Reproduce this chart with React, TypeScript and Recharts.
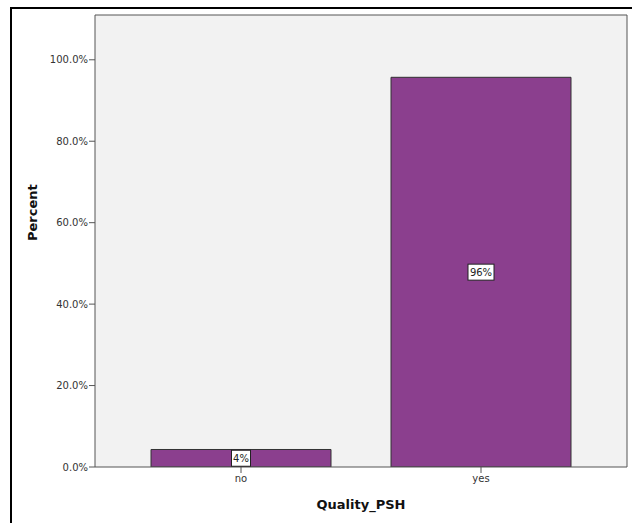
import React from 'react';
import { BarChart, Bar, CartesianGrid, XAxis, YAxis, LabelList } from 'recharts';

const categories = ['no', 'yes'];
const percents = [4.3, 95.7];
const barLabels = ['4%', '96%'];
const yTicks = [0, 20, 40, 60, 80, 100];

const data = categories.map((c, i) => ({ name: c, value: percents[i], label: barLabels[i] }));

const FONT = '"DejaVu Sans", sans-serif';

const BoxLabel = (props: any) => {
    const { x, y, width, height, index } = props;
    const text = barLabels[index];
    const w = text.length * 7 + 5;
    const h = 16;
    const cx = x + width / 2;
    const cy = y + height / 2;
    return (
        <g>
            <rect x={cx - w / 2} y={cy - h / 2} width={w} height={h} fill="#ffffff" stroke="#222" strokeWidth={1} />
            <text x={cx} y={cy + 4} textAnchor="middle" fontSize={10} fontFamily={FONT} fill="#222">{text}</text>
        </g>
    );
};

// top and right edges of the plot frame
const topEdge = ({ offset }: any) => [offset.top];
const rightEdge = ({ offset }: any) => [offset.left + offset.width];

const App: React.FC = () => {
    return (
        <div style={{ position: 'fixed', left: 0, top: 0, width: 632, height: 523, background: '#fff', overflow: 'hidden' }}>
            <div style={{ position: 'absolute', left: 0, top: 0 }}>
                <BarChart width={632} height={523} data={data} margin={{ top: 15, right: 5, left: 0, bottom: 0 }}>
                    <CartesianGrid
                        stroke="#555"
                        fill="#f2f2f2"
                        horizontalCoordinatesGenerator={topEdge}
                        verticalCoordinatesGenerator={rightEdge}
                    />
                    <XAxis
                        dataKey="name"
                        height={56}
                        padding={{ left: 26, right: 26 }}
                        stroke="#555"
                        tickSize={6}
                        tickMargin={2}
                        tick={{ fontSize: 10, fontFamily: FONT, fill: '#333' }}
                        label={{ value: 'Quality_PSH', position: 'insideBottom', offset: 14, fontSize: 13, fontWeight: 'bold', fontFamily: FONT, fill: '#111' }}
                    />
                    <YAxis
                        width={95}
                        domain={[0, 111]}
                        ticks={yTicks}
                        allowDataOverflow
                        stroke="#555"
                        tickSize={6}
                        tickMargin={1}
                        tick={{ fontSize: 10, fontFamily: FONT, fill: '#333' }}
                        tickFormatter={(v: number) => `${v.toFixed(1)}%`}
                        label={{ value: 'Percent', angle: -90, position: 'insideLeft', offset: 32, fontSize: 13, fontWeight: 'bold', fontFamily: FONT, fill: '#111' }}
                    />
                    <Bar dataKey="value" fill="#8b3f8e" stroke="#333" strokeWidth={1} barSize={180} isAnimationActive={false}>
                        <LabelList dataKey="label" content={BoxLabel} />
                    </Bar>
                </BarChart>
            </div>
            <div style={{ position: 'absolute', left: 10, top: 7, width: 640, height: 530, borderTop: '2px solid #000', borderLeft: '2px solid #000', pointerEvents: 'none' }} />
        </div>
    );
};

export default App;
